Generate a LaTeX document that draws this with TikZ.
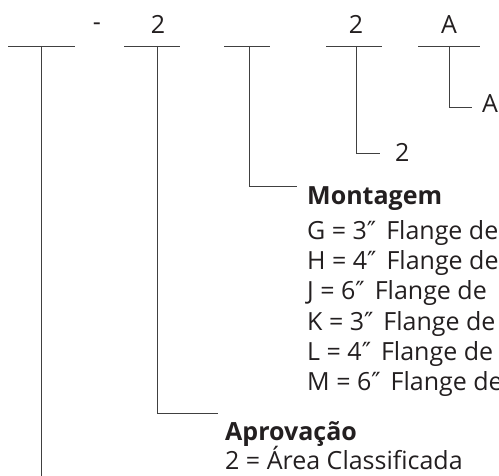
\documentclass[tikz,border=0pt]{standalone}
\usepackage{fontspec}
\setmainfont{Open Sans}
\newfontfamily\simbolo{DejaVu Sans}
\usetikzlibrary{positioning}
\definecolor{tinta}{HTML}{231F20}
\begin{document}
\begin{tikzpicture}[x=1pt,y=-1pt,
    traco/.style={line width=0.9pt, draw=black!75},
    texto/.style={font=\fontsize{25}{30}\selectfont, text=tinta, inner sep=0pt, anchor=base west},
    titulo/.style={texto, font=\fontsize{25}{30}\selectfont\bfseries},
    digito/.style={texto, anchor=base}]
  \useasboundingbox (0,0) rectangle (499,476);

  % Campos do codigo
  \foreach \nome/\xa/\xb/\xv in {c1/8/75/41, c2/124/180/157, c3/224/270/249, c4/326/382/356, c5/418/480/449} {
    \draw[traco] (\xa,46) -- (\xb,46);
    \coordinate (\nome) at (\xv,46);
  }

  % Valores acima dos campos
  \node[digito] (hifen) at (97,31) {-};
  \node[digito] (val2) at (158,34) {2};
  \node[digito] (val4) at (356,34) {2};
  \node[digito] (val5) at (449,34) {A};

  % Ultimo campo
  \node[texto] (rotA) at (482,113) {A};
  \coordinate (fimA) at (472,107);
  \draw[traco] (c5) |- (fimA);

  % Quarto campo
  \node[texto] (rot2) at (395,162) {2};
  \coordinate (fim2) at (380,153);
  \draw[traco] (c4) |- (fim2);

  % Montagem
  \node[titulo] (mont) at (307,205) {Montagem};
  \foreach \letra/\pol [count=\i] in {G/3,H/4,J/6,K/3,L/4,M/6}
    \node[texto] (op\letra) at (307,209+30.3*\i) {\letra{} = \pol{\simbolo″}\hspace{0.4em}Flange de};
  \coordinate (fimMont) at (297,186);
  \draw[traco] (c3) |- (fimMont);

  % Aprovacao
  \node[titulo] (aprov) at (225,440) {Aprovação};
  \node[texto] (ap2) at (225,470) {2 = Área Classificada};
  \coordinate (fimAprov) at (218,413);
  \draw[traco] (c2) |- (fimAprov);

  % Primeiro campo
  \coordinate (fimC1) at (41,476);
  \draw[traco] (c1) -- (fimC1);
\end{tikzpicture}
\end{document}
